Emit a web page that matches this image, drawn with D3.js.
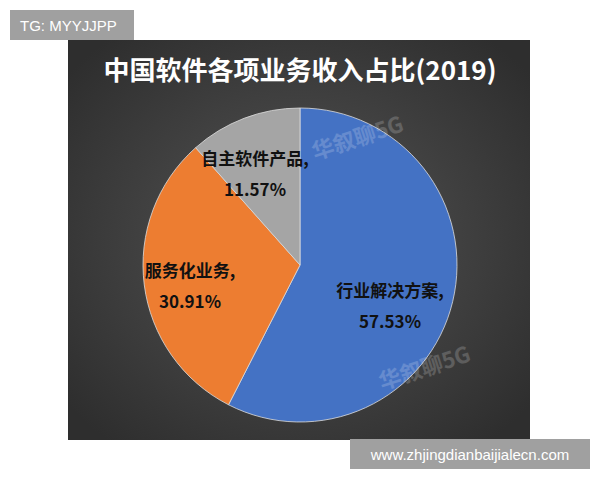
<!DOCTYPE html>
<html><head><meta charset="utf-8">
<script src="https://cdn.jsdelivr.net/npm/d3@7"></script>
<style>body{margin:0;background:#fff}svg{display:block}</style>
</head><body>
<svg id="c" width="600" height="480"></svg>
<script>
const categories = ["行业解决方案", "服务化业务", "自主软件产品"];
const values = [57.53, 30.91, 11.57];
const colors = ["#4472c4", "#ed7d31", "#a5a5a5"];
const title = "中国软件各项业务收入占比(2019)";

const svg = d3.select("#c");
const defs = svg.append("defs");
const g = defs.append("radialGradient").attr("id","bg").attr("cx","50%").attr("cy","50%").attr("r","65%");
g.append("stop").attr("offset","0%").attr("stop-color","#555");
g.append("stop").attr("offset","100%").attr("stop-color","#2e2e2e");
svg.append("rect").attr("x",68).attr("y",40).attr("width",462).attr("height",400).attr("fill","url(#bg)");

svg.append("text").attr("x",300).attr("y",80).attr("text-anchor","middle")
  .attr("font-family","Noto Sans CJK SC").attr("font-weight","bold").attr("font-size",26)
  .attr("fill","#fff").text(title);

const cx=300, cy=265, r=157;
const pie = d3.pie().sort(null)(values);
const arc = d3.arc().innerRadius(0).outerRadius(r);
const pg = svg.append("g").attr("transform",`translate(${cx},${cy})`);
pg.selectAll("path").data(pie).join("path").attr("d",arc)
  .attr("fill",(d,i)=>colors[i]).attr("stroke","#ddd").attr("stroke-width",0.8);

const labelPos = [[90,32],[-110,12],[-45,-100]];
pie.forEach((d,i)=>{
  const t = pg.append("text").attr("text-anchor","middle")
    .attr("font-family","Noto Sans CJK SC").attr("font-weight","bold").attr("font-size",17).attr("fill","#111");
  t.append("tspan").attr("x",labelPos[i][0]).attr("y",labelPos[i][1]).text(categories[i]+",");
  t.append("tspan").attr("x",labelPos[i][0]).attr("y",labelPos[i][1]+31).text(values[i].toFixed(2)+"%");
});

[[15,-105],[82,125]].forEach(p=>{
  pg.append("text").attr("transform",`translate(${p[0]},${p[1]}) rotate(-18)`)
    .attr("font-family","Noto Sans CJK SC").attr("font-weight","bold").attr("font-size",22)
    .attr("fill","#fff").attr("opacity",0.18).text("华叙聊5G");
});

svg.append("rect").attr("x",10).attr("y",10).attr("width",124).attr("height",30).attr("fill","#a0a0a0");
svg.append("text").attr("x",20).attr("y",31).attr("font-family","Liberation Sans").attr("font-size",15).attr("fill","#fff").text("TG: MYYJJPP");
svg.append("rect").attr("x",350).attr("y",439).attr("width",240).attr("height",30).attr("fill","#a0a0a0");
svg.append("text").attr("x",470).attr("y",460).attr("text-anchor","middle").attr("font-family","Liberation Sans").attr("font-size",15).attr("fill","#fff").text("www.zhjingdianbaijialecn.com");
</script>
</body></html>
